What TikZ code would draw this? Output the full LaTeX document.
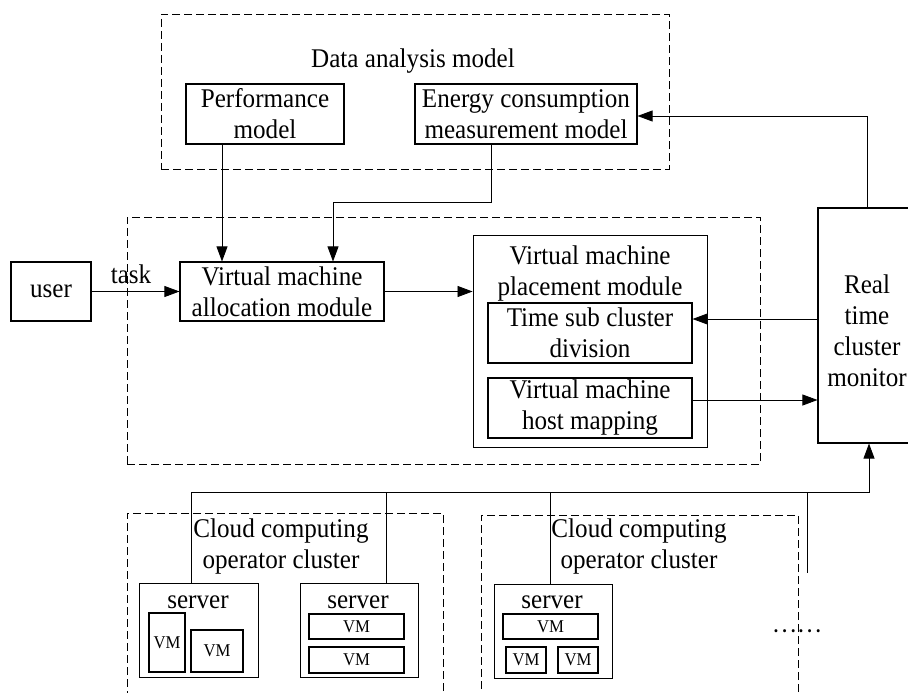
\documentclass[tikz,border=0pt]{standalone}
\usepackage{fontspec}
\setmainfont[FakeStretch=0.93]{Liberation Serif}
\newfontfamily\cjkfont{Noto Sans CJK SC}
\usetikzlibrary{arrows.meta}
\newcommand\fsbig{\fontsize{27pt}{31pt}\selectfont}
\newcommand\fssmall{\fontsize{18pt}{20pt}\selectfont}
\begin{document}
\begin{tikzpicture}[x=1pt,y=-1pt,
  box/.style={draw, line width=1.1pt, inner sep=0pt, align=center, font=\fsbig},
  dbox/.style={draw, line width=0.9pt, dash pattern=on 8pt off 4pt, inner sep=0pt},
  srvbox/.style={draw, line width=0.9pt, inner sep=0pt},
  vmbox/.style={draw, line width=1.4pt, inner sep=0pt, font=\fssmall},
  txt/.style={inner sep=0pt, align=center, font=\fsbig},
  conn/.style={line width=0.8pt},
  arr/.style={conn, -{Triangle[length=15pt,width=11pt]}}
]
\useasboundingbox (0,0) rectangle (908,693);

% data analysis model
\node[dbox, minimum width=508pt, minimum height=155pt] (dam) at (415,91.5) {};
\node[txt, anchor=base] (damt) at (413,67) {Data analysis model};
\node[box, minimum width=158pt, minimum height=60pt] (perf) at (265,114) {Performance\\model};
\node[box, minimum width=222pt, minimum height=60pt] (energy) at (526,114) {Energy consumption\\measurement model};

% middle
\node[dbox, minimum width=633pt, minimum height=247pt] (mid) at (443.5,340.5) {};
\node[box, minimum width=80pt, minimum height=59pt] (user) at (51,291.5) {user};
\node[box, minimum width=204pt, minimum height=59pt] (alloc) at (282,291.5) {Virtual machine\\allocation module};
\node[box, line width=0.9pt, minimum width=234pt, minimum height=212pt] (place) at (590,341) {};
\node[txt] (placet) at (590,274) {Virtual machine\\placement module};
\node[box, minimum width=204pt, minimum height=60pt] (tsub) at (590,333) {Time sub cluster\\division};
\node[box, minimum width=204pt, minimum height=60pt] (hmap) at (590,408) {Virtual machine\\host mapping};
\node[box, minimum width=98pt, minimum height=235pt] (mon) at (867,325.5) {};
\node[txt] (mont) at (867,331) {Real\\time\\cluster\\monitor};
\node[txt, anchor=base] (task) at (131,283) {task};

% clusters
\node[dbox, minimum width=316pt, minimum height=210pt] (cl1) at (285,618) {};
\node[dbox, minimum width=317pt, minimum height=208pt] (cl2) at (639.5,619) {};
\node[txt] (cl1t) at (281,547) {Cloud computing\\operator cluster};
\node[txt] (cl2t) at (639,547) {Cloud computing\\operator cluster};

\node[srvbox, minimum width=119pt, minimum height=94pt] (srv1) at (198.5,630) {};
\node[txt, anchor=base] (srv1t) at (198,608) {server};
\node[vmbox, minimum width=36pt, minimum height=59pt] (vm11) at (167,642.5) {VM};
\node[vmbox, minimum width=52pt, minimum height=42pt] (vm12) at (217,651) {VM};

\node[srvbox, minimum width=118pt, minimum height=94pt] (srv2) at (359,630) {};
\node[txt, anchor=base] (srv2t) at (358,608) {server};
\node[vmbox, minimum width=95pt, minimum height=25pt] (vm21) at (356.5,626.5) {VM};
\node[vmbox, minimum width=95pt, minimum height=26pt] (vm22) at (356.5,660) {VM};

\node[srvbox, minimum width=118pt, minimum height=94pt] (srv3) at (553,631) {};
\node[txt, anchor=base] (srv3t) at (552,608) {server};
\node[vmbox, minimum width=95pt, minimum height=25pt] (vm31) at (550.5,626.5) {VM};
\node[vmbox, minimum width=40pt, minimum height=26pt] (vm32) at (526,660) {VM};
\node[vmbox, minimum width=40pt, minimum height=26pt] (vm33) at (578,660) {VM};

\node[inner sep=0pt, font=\cjkfont\fontsize{23pt}{23pt}\selectfont] (dots) at (797,631) {……};

% connectors
\coordinate (p1) at (222,0);
\draw[arr] (perf.south -| p1) -- (alloc.north -| p1);
\coordinate (e1) at (491,202);
\coordinate (e2) at (333,202);
\draw[arr] (energy.south -| e1) -- (e1) -- (e2) -- (alloc.north -| e2);
\draw[arr] (user) -- (alloc);
\draw[arr] (alloc) -- (alloc -| place.west);
\coordinate (t1) at (0,319);
\draw[arr] (mon.west |- t1) -- (tsub.east |- t1);
\coordinate (h1) at (0,400);
\draw[arr] (hmap.east |- h1) -- (mon.west |- h1);
\coordinate (m1) at (867,116);
\draw[arr] (mon.north) -- (m1) -- (energy.east |- m1);

\coordinate (b1) at (191,492);
\coordinate (b2) at (386,492);
\coordinate (b3) at (550,492);
\coordinate (b4) at (807,492);
\coordinate (b4e) at (807,573);
\coordinate (b5) at (869,492);
\draw[arr] (srv1.north -| b1) -- (b1) -- (b5) -- (mon.south -| b5);
\draw[conn] (b2) -- (srv2.north -| b2);
\draw[conn] (b3) -- (srv3.north -| b3);
\draw[conn] (b4) -- (b4e);
\end{tikzpicture}
\end{document}
